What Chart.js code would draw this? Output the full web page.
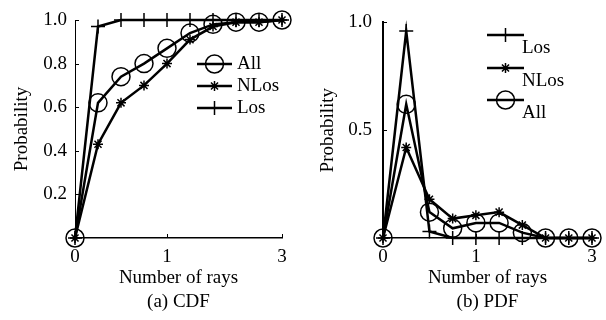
<!DOCTYPE html>
<html>
<head>
<meta charset="utf-8">
<script src="https://cdn.jsdelivr.net/npm/chart.js@4"></script>
<style>
  html, body { margin: 0; padding: 0; background: #fff; }
  #wrap { position: relative; width: 606px; height: 320px; }
  .panel { position: absolute; top: 0; width: 303px; height: 320px; }
</style>
</head>
<body>
<div id="wrap">
  <div class="panel" style="left:0"><canvas id="cdf-chart"></canvas></div>
  <div class="panel" style="left:303px"><canvas id="pdf-chart"></canvas></div>
</div>
<script>
// sample positions along x and the three labelled ones
const xSteps = [0, 1, 2, 3, 4, 5, 6, 7, 8, 9];
const xTickSteps = [0, 4, 9];
const xTickLabels = ['0', '1', '3'];

// (a) CDF
const cdfAll  = [0, 0.62, 0.74, 0.80, 0.87, 0.94, 0.98, 0.99, 0.99, 1.0];
const cdfNLos = [0, 0.43, 0.62, 0.70, 0.80, 0.91, 0.97, 0.99, 0.99, 1.0];
const cdfLos  = [0, 0.97, 1.0, 1.0, 1.0, 1.0, 1.0, 1.0, 1.0, 1.0];
const cdfYTicks = [0.2, 0.4, 0.6, 0.8, 1.0];

// (b) PDF
const pdfLos  = [0, 0.96, 0.03, 0, 0, 0, 0, 0, 0, 0];
const pdfNLos = [0, 0.42, 0.18, 0.09, 0.105, 0.12, 0.06, 0, 0, 0];
const pdfAll  = [0, 0.62, 0.12, 0.045, 0.07, 0.07, 0.025, 0, 0, 0];
const pdfYTicks = [0.5, 1.0];

const FONT = "'Liberation Serif', 'Times New Roman', serif";
const FONT_SIZE = 19;

// marker style for each curve
const styles = {
    All:  { pointStyle: 'circle', pointRadius: 9, pointBorderWidth: 1.5 },
    NLos: { pointStyle: 'star',   pointRadius: 5, pointBorderWidth: 1.5 },
    Los:  { pointStyle: 'cross',  pointRadius: 7, pointBorderWidth: 1.5 }
};

function makeDataset(label, values) {
    return Object.assign({
        label: label,
        data: xSteps.map((x, i) => ({ x: x, y: values[i] })),
        borderColor: '#000',
        backgroundColor: 'rgba(0,0,0,0)',
        pointBorderColor: '#000',
        pointBackgroundColor: 'rgba(0,0,0,0)',
        borderWidth: 2.5,
        tension: 0,
        clip: false
    }, styles[label]);
}

// draws short inward tick marks on both axes
const innerTicks = {
    id: 'innerTicks',
    afterDraw(chart) {
        const ctx = chart.ctx;
        const xs = chart.scales.x, ys = chart.scales.y;
        const a = chart.chartArea;
        ctx.save();
        ctx.strokeStyle = '#000';
        ctx.lineWidth = 1;
        xs.ticks.forEach(t => {
            const px = Math.round(xs.getPixelForValue(t.value)) + 0.5;
            ctx.beginPath(); ctx.moveTo(px, a.bottom); ctx.lineTo(px, a.bottom - 4); ctx.stroke();
        });
        ys.ticks.forEach(t => {
            const py = Math.round(ys.getPixelForValue(t.value)) + 0.5;
            ctx.beginPath(); ctx.moveTo(a.left, py); ctx.lineTo(a.left + 4, py); ctx.stroke();
        });
        ctx.restore();
    }
};

// legend with a short line through each marker
const lineLegend = {
    id: 'lineLegend',
    afterDraw(chart, args, opts) {
        const ctx = chart.ctx;
        ctx.save();
        ctx.font = FONT_SIZE + 'px ' + FONT;
        ctx.textBaseline = 'middle';
        ctx.textAlign = 'left';
        chart.data.datasets.forEach(ds => {
            const row = opts.rows[ds.label];
            if (!row) return;
            ctx.strokeStyle = '#000';
            ctx.fillStyle = 'rgba(0,0,0,0)';
            ctx.lineWidth = 2.5;
            ctx.beginPath();
            ctx.moveTo(row.x, row.y);
            ctx.lineTo(row.x + opts.lineLength, row.y);
            ctx.stroke();
            ctx.lineWidth = ds.pointBorderWidth;
            Chart.helpers.drawPoint(ctx, {
                pointStyle: ds.pointStyle,
                radius: ds.pointRadius,
                rotation: 0,
                borderWidth: ds.pointBorderWidth
            }, row.x + opts.lineLength / 2, row.y);
            ctx.fillStyle = '#000';
            ctx.fillText(ds.label, row.x + opts.lineLength + opts.textDx, row.y + opts.textDy);
        });
        ctx.restore();
    }
};

function createPanel(targetID, datasets, yTicks, caption, layout) {
    const ctx = document.getElementById(targetID).getContext('2d');
    return new Chart(ctx, {
        type: 'line',
        data: { datasets: datasets },
        options: {
            responsive: true,
            maintainAspectRatio: false,
            animation: false,
            layout: { padding: { top: 20, right: layout.padRight, bottom: 0, left: 0 } },
            plugins: {
                legend: { display: false },
                tooltip: { enabled: false },
                lineLegend: layout.legend
            },
            scales: {
                x: {
                    type: 'linear',
                    min: 0,
                    max: 9,
                    afterBuildTicks: s => { s.ticks = xTickSteps.map(v => ({ value: v })); },
                    afterFit: s => { s.height = 82; },
                    ticks: {
                        color: '#000',
                        font: { family: FONT, size: FONT_SIZE },
                        padding: 8,
                        maxRotation: 0,
                        autoSkip: false,
                        callback: v => xTickLabels[xTickSteps.indexOf(v)]
                    },
                    grid: { drawOnChartArea: false, drawTicks: false },
                    border: { display: true, color: '#000', width: 1.5 },
                    title: {
                        display: true,
                        text: ['Number of rays', caption],
                        color: '#000',
                        font: { family: FONT, size: FONT_SIZE, lineHeight: 1.28 },
                        padding: { top: 0, bottom: 6 }
                    }
                },
                y: {
                    min: 0,
                    max: 1,
                    afterBuildTicks: s => { s.ticks = yTicks.map(v => ({ value: v })); },
                    afterFit: s => { s.width = layout.yWidth; },
                    ticks: {
                        color: '#000',
                        font: { family: FONT, size: FONT_SIZE },
                        padding: layout.tickPad,
                        callback: v => v.toFixed(1)
                    },
                    grid: { drawOnChartArea: false, drawTicks: false },
                    border: { display: true, color: '#000', width: layout.yBorder },
                    title: {
                        display: true,
                        text: 'Probability',
                        color: '#000',
                        font: { family: FONT, size: FONT_SIZE, lineHeight: 1.2 },
                        padding: { top: layout.titlePad, bottom: 0 }
                    }
                }
            }
        },
        plugins: [innerTicks, lineLegend]
    });
}

createPanel('cdf-chart',
    [makeDataset('All', cdfAll), makeDataset('NLos', cdfNLos), makeDataset('Los', cdfLos)],
    cdfYTicks, '(a) CDF',
    {
        padRight: 21, yWidth: 75, tickPad: 8, yBorder: 1, titlePad: 11,
        legend: {
            lineLength: 35, textDx: 5, textDy: 0,
            rows: { All: { x: 197, y: 64 }, NLos: { x: 197, y: 86 }, Los: { x: 197, y: 108 } }
        }
    });

createPanel('pdf-chart',
    [makeDataset('Los', pdfLos), makeDataset('NLos', pdfNLos), makeDataset('All', pdfAll)],
    pdfYTicks, '(b) PDF',
    {
        padRight: 14, yWidth: 80, tickPad: 11, yBorder: 2, titlePad: 14,
        legend: {
            lineLength: 37, textDx: -2, textDy: 13,
            rows: { Los: { x: 184, y: 35 }, NLos: { x: 184, y: 68 }, All: { x: 184, y: 100 } }
        }
    });
</script>
</body>
</html>
